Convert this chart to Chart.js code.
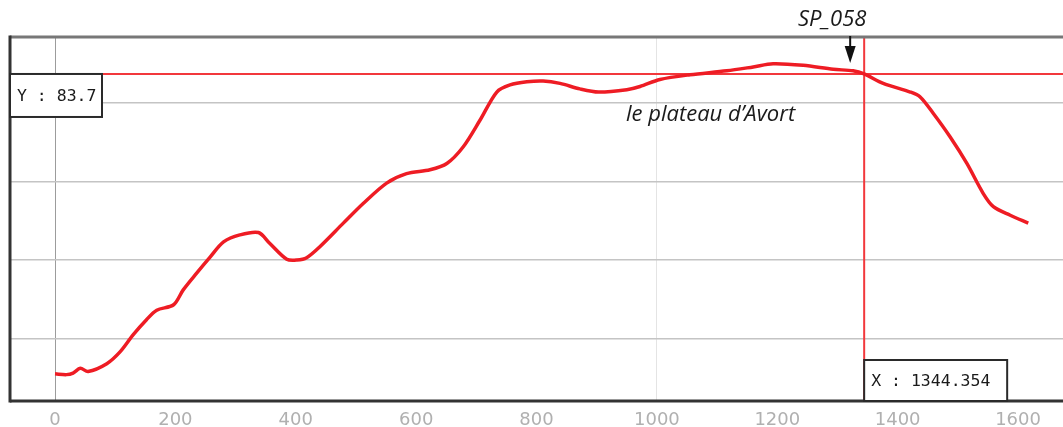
<!DOCTYPE html>
<html>
<head>
<meta charset="utf-8">
<script src="https://cdn.jsdelivr.net/npm/chart.js@4"></script>
<style>
    html, body { margin: 0; padding: 0; background: #fff; }
    #wrap { width: 1063px; height: 427px; position: relative; }
</style>
</head>
<body>
<div id="wrap"><canvas id="profil"></canvas></div>
<script>
// profil en long : distance (m) / altitude
const distances = [0, 19, 30, 42, 55, 86, 108, 130, 152, 169, 197, 213, 235, 258, 280, 307, 338, 357, 385, 402,
    418, 440, 479, 512, 551, 584, 623, 651, 678, 706, 734, 756, 784, 811, 839, 872, 903, 950, 972, 1005,
    1055, 1116, 1160, 1193, 1243, 1293, 1326, 1344.354, 1376, 1421, 1437, 1459, 1487, 1515, 1542, 1559, 1587, 1617];
const altitudes = [45.5, 45.4, 45.6, 46.2, 45.8, 46.8, 48.3, 50.5, 52.4, 53.6, 54.3, 56.2, 58.3, 60.4, 62.3, 63.2, 63.5, 62.1, 60.1, 60.0,
    60.3, 61.7, 64.7, 67.2, 69.8, 71.0, 71.5, 72.3, 74.4, 77.8, 81.4, 82.3, 82.7, 82.8, 82.5, 81.8, 81.4, 81.7, 82.1, 83.0,
    83.6, 84.1, 84.6, 85.0, 84.8, 84.3, 84.1, 83.7, 82.5, 81.4, 80.8, 78.7, 75.7, 72.3, 68.5, 66.8, 65.7, 64.7];
const xTicks = [0, 200, 400, 600, 800, 1000, 1200, 1400, 1600];
const yTicks = [50, 60, 70, 80];

const cursorX = 1344.354;
const cursorY = 83.7;
const pointLabel = 'SP_058';
const zoneLabel = 'le plateau d\u2019Avort';

const RED = '#ee1c24';
const CROSS = '#f2383c';

const points = distances.map((d, i) => ({ x: d, y: altitudes[i] }));

function line(ctx, x1, y1, x2, y2, color, width) {
    ctx.beginPath();
    ctx.moveTo(x1, y1);
    ctx.lineTo(x2, y2);
    ctx.strokeStyle = color;
    ctx.lineWidth = width;
    ctx.stroke();
}

function box(ctx, x, y, w, h, text) {
    ctx.fillStyle = '#fff';
    ctx.fillRect(x, y, w, h);
    ctx.strokeStyle = '#2a2a2a';
    ctx.lineWidth = 2;
    ctx.strokeRect(x, y, w, h);
    ctx.fillStyle = '#1a1a1a';
    ctx.font = '16.5px "DejaVu Sans Mono", monospace';
    ctx.textAlign = 'left';
    ctx.textBaseline = 'middle';
    ctx.fillText(text, x + 7, y + h / 2 + 1);
}

const crosshair = {
    id: 'crosshair',
    beforeDatasetsDraw(chart) {
        const { ctx, chartArea, scales } = chart;
        const px = scales.x.getPixelForValue(cursorX);
        const py = scales.y.getPixelForValue(cursorY);
        ctx.save();
        line(ctx, chartArea.left, py, chartArea.right, py, CROSS, 2);
        line(ctx, px, chartArea.top, px, chartArea.bottom, CROSS, 2);
        ctx.restore();
    },
    afterDraw(chart) {
        const { ctx, chartArea, scales } = chart;
        const px = scales.x.getPixelForValue(cursorX);
        const py = scales.y.getPixelForValue(cursorY);
        ctx.save();

        // cadre
        line(ctx, chartArea.left, chartArea.top, chartArea.right, chartArea.top, '#777', 3);
        line(ctx, chartArea.left, chartArea.bottom, chartArea.right, chartArea.bottom, '#333', 3);
        line(ctx, chartArea.left, chartArea.top - 1.5, chartArea.left, chartArea.bottom + 1.5, '#333', 3);

        // valeurs du curseur
        box(ctx, chartArea.left, py, 92, 43, 'Y : ' + cursorY.toFixed(1));
        box(ctx, px, chartArea.bottom - 41, 143, 41, 'X : ' + cursorX.toFixed(3));

        // flèche + étiquette du point
        const ax = px - 14;
        line(ctx, ax, 36, ax, 50, '#111', 2);
        ctx.beginPath();
        ctx.moveTo(ax - 5.5, 46);
        ctx.lineTo(ax + 5.5, 46);
        ctx.lineTo(ax, 63);
        ctx.closePath();
        ctx.fillStyle = '#111';
        ctx.fill();

        ctx.fillStyle = '#1a1a1a';
        ctx.textBaseline = 'middle';
        ctx.font = 'italic 22px "Open Sans", sans-serif';
        ctx.textAlign = 'center';
        ctx.fillText(pointLabel, ax - 18, 20);

        ctx.font = 'italic 22px "Open Sans", sans-serif';
        ctx.textAlign = 'left';
        ctx.fillText(zoneLabel, 626, 115);
        ctx.restore();
    }
};

new Chart(document.getElementById('profil'), {
    type: 'line',
    data: {
        datasets: [{
            data: points,
            borderColor: RED,
            borderWidth: 3.5,
            pointRadius: 0,
            tension: 0.3,
            fill: false,
        }],
    },
    options: {
        responsive: true,
        maintainAspectRatio: false,
        animation: false,
        layout: { padding: { top: 37, left: 10, right: 0, bottom: 0 } },
        plugins: {
            legend: { display: false },
            tooltip: { enabled: false },
        },
        scales: {
            x: {
                type: 'linear',
                min: -74.8,
                max: 1674.7,
                afterBuildTicks: (s) => { s.ticks = xTicks.map(v => ({ value: v })); },
                afterFit: (s) => { s.height = 26; },
                border: { display: false },
                grid: {
                    drawTicks: false,
                    lineWidth: 1,
                    color: (c) => c.tick && c.tick.value === 0 ? '#9c9c9c'
                        : (c.tick && c.tick.value === 1000 ? '#e4e4e4' : 'rgba(0,0,0,0)'),
                },
                ticks: {
                    padding: 9,
                    maxRotation: 0,
                    color: '#b0b0b0',
                    font: { size: 18, family: '"DejaVu Sans", sans-serif' },
                    callback: (v) => String(v),
                },
            },
            y: {
                min: 42.04,
                max: 88.41,
                afterBuildTicks: (s) => { s.ticks = yTicks.map(v => ({ value: v })); },
                afterFit: (s) => { s.width = 0; },
                border: { display: false },
                grid: { drawTicks: false, color: '#c4c4c4', lineWidth: 1.5 },
                ticks: { display: false },
            },
        },
    },
    plugins: [crosshair],
});
</script>
</body>
</html>
